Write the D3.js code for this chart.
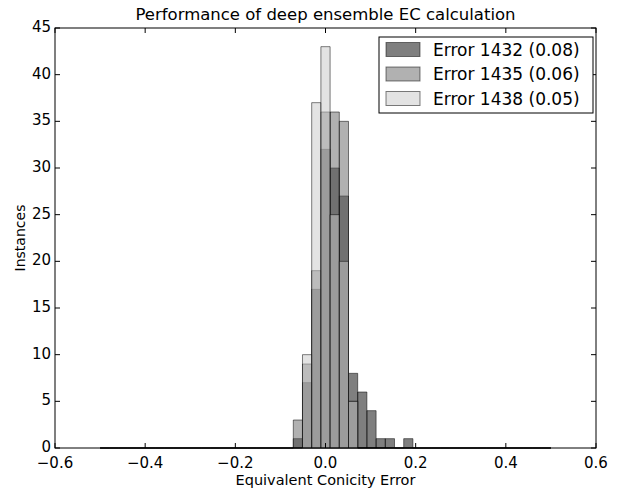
<!DOCTYPE html>
<html>
<head>
<meta charset="utf-8">
<script src="https://d3js.org/d3.v7.min.js"></script>
<style>
    body { margin: 0; background: #ffffff; }
    text { font-family: "DejaVu Sans", sans-serif; fill: #000000; }
</style>
</head>
<body>
<div id="chart"></div>
<script>
// histogram bins: offsets from the bin centred on zero
var binIndex = [-3, -2, -1, 0, 1, 2, 3, 4, 5, 6, 7, 8, 9];
var counts1432 = [1, 7, 17, 32, 30, 27, 8, 6, 4, 1, 1, 0, 1];
var counts1435 = [3, 9, 19, 36, 36, 35, 5, 0, 0, 0, 0, 0, 0];
var counts1438 = [0, 10, 37, 43, 25, 20, 5, 0, 0, 0, 0, 0, 0];
var seriesNames = ['Error 1432 (0.08)', 'Error 1435 (0.06)', 'Error 1438 (0.05)'];
var xTicks = [-0.6, -0.4, -0.2, 0.0, 0.2, 0.4, 0.6];
var yTicks = [0, 5, 10, 15, 20, 25, 30, 35, 40, 45];
var histRange = [-0.5, 0.5];
var nBins = 49;

var W = 623, H = 491;
var m = {left: 55, right: 27, top: 28, bottom: 43};
var fills = ['rgba(0,0,0,0.5)', 'rgba(100,100,100,0.5)', 'rgba(200,200,200,0.5)'];
var edge = 'rgba(0,0,0,0.5)';

var svg = d3.select('#chart').append('svg').attr('width', W).attr('height', H);

var x = d3.scaleLinear().domain([-0.6, 0.6]).range([m.left, W - m.right]);
var y = d3.scaleLinear().domain([0, 45]).range([H - m.bottom, m.top]);

var bw = (histRange[1] - histRange[0]) / nBins;
var half = Math.floor(nBins / 2);

function bars(counts)
{
    // every bin in the range, empty ones too (they leave a line on the floor)
    var out = [];
    for (var k = -half; k <= half; k++) {
        var i = binIndex.indexOf(k);
        out.push({x0: (k - 0.5) * bw, x1: (k + 0.5) * bw, n: i < 0 ? 0 : counts[i]});
    }
    return out;
}

var series = [counts1432, counts1435, counts1438];
var plot = svg.append('g');

series.forEach(function(counts, s)
{
    plot.selectAll('.b' + s).data(bars(counts)).enter().append('path')
        .attr('class', 'b' + s)
        .attr('d', function(d) {
            var x0 = x(d.x0), x1 = x(d.x1), y0 = y(0), y1 = y(d.n);
            return 'M' + x0 + ',' + y0 + 'V' + y1 + 'H' + x1 + 'V' + y0 + 'Z';
        })
        .attr('fill', fills[s])
        .attr('stroke', edge)
        .attr('stroke-width', 1);
});

// frame
svg.append('rect')
    .attr('x', x(-0.6)).attr('y', y(45))
    .attr('width', x(0.6) - x(-0.6)).attr('height', y(0) - y(45))
    .attr('fill', 'none').attr('stroke', '#000').attr('stroke-width', 1);

// ticks inside on all four sides
var tl = 5;
var tg = svg.append('g').attr('stroke', '#000').attr('stroke-width', 1);
xTicks.forEach(function(t)
{
    tg.append('line').attr('x1', x(t)).attr('x2', x(t)).attr('y1', y(0)).attr('y2', y(0) - tl);
    tg.append('line').attr('x1', x(t)).attr('x2', x(t)).attr('y1', y(45)).attr('y2', y(45) + tl);
});
yTicks.forEach(function(t)
{
    tg.append('line').attr('x1', x(-0.6)).attr('x2', x(-0.6) + tl).attr('y1', y(t)).attr('y2', y(t));
    tg.append('line').attr('x1', x(0.6)).attr('x2', x(0.6) - tl).attr('y1', y(t)).attr('y2', y(t));
});

var fmt = d3.format('.1f');
svg.selectAll('.xt').data(xTicks).enter().append('text')
    .attr('x', function(d) { return x(d); })
    .attr('y', y(0) + 20)
    .attr('text-anchor', 'middle')
    .style('font-size', '15px')
    .text(function(d) { return fmt(d).replace('-', '\u2212'); });

svg.selectAll('.yt').data(yTicks).enter().append('text')
    .attr('x', x(-0.6) - 4)
    .attr('y', function(d) { return y(d) + 4; })
    .attr('text-anchor', 'end')
    .style('font-size', '15px')
    .text(function(d) { return d; });

svg.append('text')
    .attr('x', (x(-0.6) + x(0.6)) / 2).attr('y', 20)
    .attr('text-anchor', 'middle').style('font-size', '16.5px')
    .text('Performance of deep ensemble EC calculation');

svg.append('text')
    .attr('x', (x(-0.6) + x(0.6)) / 2).attr('y', 485)
    .attr('text-anchor', 'middle').style('font-size', '14.5px')
    .text('Equivalent Conicity Error');

svg.append('text')
    .attr('transform', 'translate(25,' + (y(22.5)) + ') rotate(-90)')
    .attr('text-anchor', 'middle').style('font-size', '14px')
    .text('Instances');

// legend
var lg = svg.append('g').attr('transform', 'translate(379,37)');
lg.append('rect').attr('width', 214).attr('height', 76)
    .attr('fill', '#fff').attr('stroke', '#000').attr('stroke-width', 1);
seriesNames.forEach(function(name, s)
{
    var ry = 12.5 + s * 24.5;
    lg.append('rect').attr('x', 7).attr('y', ry - 7).attr('width', 34).attr('height', 14)
        .attr('fill', fills[s]).attr('stroke', edge);
    lg.append('text').attr('x', 54).attr('y', ry + 6)
        .style('font-size', '17px').text(name);
});
</script>
</body>
</html>
